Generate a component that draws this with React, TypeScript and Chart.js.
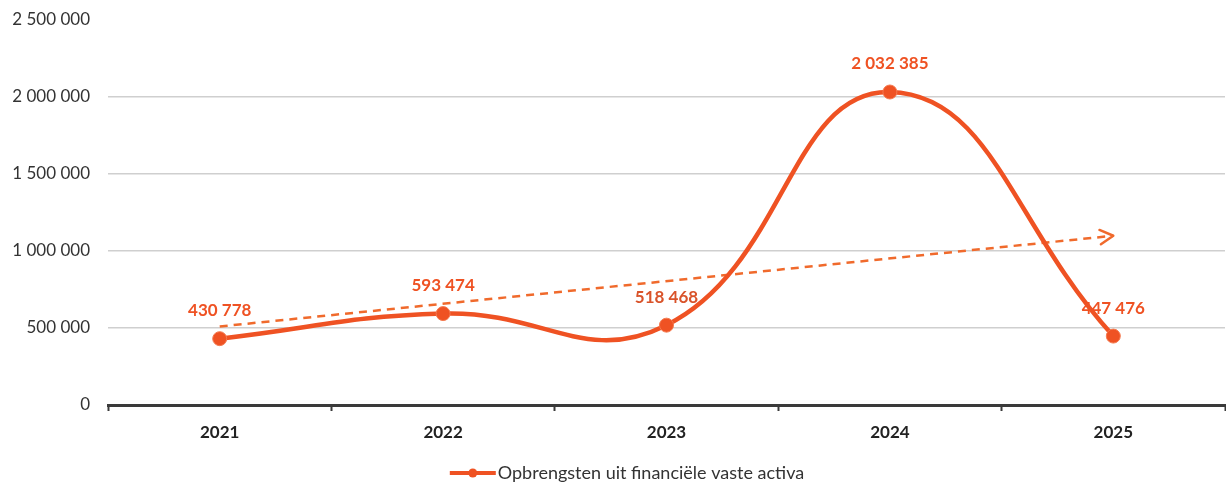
import React, { useEffect, useRef } from "react";
import { Chart, registerables } from "chart.js";

Chart.register(...registerables);

const categories = ["2021", "2022", "2023", "2024", "2025"];
const seriesLabel = "Opbrengsten uit financiële vaste activa";
const seriesValues = [430778, 593474, 518468, 2032385, 447476];
const trendValues = [510000, null, null, null, 1099000];
const yTicks = [0, 500000, 1000000, 1500000, 2000000, 2500000];

const ORANGE = "#EF5223";
const TREND = "#F06A2C";
const FONT = "Lato, 'Open Sans', sans-serif";

const fmt = (v: number) => Math.round(v).toString().replace(/\B(?=(\d{3})+(?!\d))/g, " ");

const zeroPad = (s: any) => {
  s.paddingTop = 0;
  s.paddingBottom = 0;
  s.paddingLeft = 0;
  s.paddingRight = 0;
};

const overlayPlugin = {
  id: "overlay",
  afterDatasetsDraw(chart: any) {
    const ctx = chart.ctx;
    const tMeta = chart.getDatasetMeta(1);
    const pts = tMeta.data.filter((p: any) => !p.skip && p.y != null && !isNaN(p.y));
    if (pts.length >= 2) {
      const a = pts[0];
      const b = pts[pts.length - 1];
      const ang = Math.atan2(b.y - a.y, b.x - a.x);
      const len = 15;
      ctx.save();
      ctx.strokeStyle = TREND;
      ctx.lineWidth = 2.5;
      ctx.lineCap = "round";
      ctx.lineJoin = "round";
      ctx.beginPath();
      ctx.moveTo(b.x - len * Math.cos(ang - 0.5), b.y - len * Math.sin(ang - 0.5));
      ctx.lineTo(b.x, b.y);
      ctx.lineTo(b.x - len * Math.cos(ang + 0.5), b.y - len * Math.sin(ang + 0.5));
      ctx.stroke();
      ctx.restore();
    }
    const meta = chart.getDatasetMeta(0);
    ctx.save();
    ctx.font = `bold 17px ${FONT}`;
    ctx.textAlign = "center";
    ctx.textBaseline = "middle";
    meta.data.forEach((p: any, i: number) => {
      ctx.fillStyle = i === 2 ? "#D9532A" : ORANGE;
      ctx.fillText(fmt(seriesValues[i]), p.x, p.y - 28);
    });
    ctx.restore();
  },
  afterDraw(chart: any) {
    const ctx = chart.ctx;
    ctx.save();
    ctx.font = `18px ${FONT}`;
    const tw = ctx.measureText(seriesLabel).width;
    const lineW = 46;
    const total = lineW + 2 + tw;
    const cx = chart.width / 2 + 14;
    const x0 = cx - total / 2;
    const y = 473;
    ctx.strokeStyle = ORANGE;
    ctx.lineWidth = 4;
    ctx.beginPath();
    ctx.moveTo(x0, y);
    ctx.lineTo(x0 + lineW, y);
    ctx.stroke();
    ctx.fillStyle = ORANGE;
    ctx.beginPath();
    ctx.arc(x0 + lineW / 2, y, 4.5, 0, Math.PI * 2);
    ctx.fill();
    ctx.fillStyle = "#333";
    ctx.textAlign = "left";
    ctx.textBaseline = "middle";
    ctx.fillText(seriesLabel, x0 + lineW + 2, y);
    ctx.restore();
  },
};

export default function App() {
  const ref = useRef<HTMLCanvasElement>(null);
  useEffect(() => {
    if (!ref.current) return;
    const chart = new Chart(ref.current, {
      type: "line",
      data: {
        labels: categories,
        datasets: [
          {
            label: seriesLabel,
            data: seriesValues,
            borderColor: ORANGE,
            backgroundColor: ORANGE,
            borderWidth: 4.5,
            pointRadius: 7,
            pointBackgroundColor: ORANGE,
            pointBorderColor: "#F47A50",
            pointBorderWidth: 1,
            tension: 0.45,
            fill: false,
          },
          {
            label: "trend",
            data: trendValues,
            borderColor: TREND,
            borderWidth: 2.5,
            borderDash: [8, 6],
            pointRadius: 0,
            spanGaps: true,
            tension: 0,
            fill: false,
          },
        ],
      },
      options: {
        animation: false,
        responsive: false,
        maintainAspectRatio: false,
        layout: { autoPadding: false, padding: { left: 8, right: 1, top: 20, bottom: 43 } },
        plugins: { legend: { display: false }, tooltip: { enabled: false } },
        scales: {
          x: {
            offset: true,
            grid: {
              offset: true,
              drawOnChartArea: false,
              drawTicks: true,
              tickLength: 6,
              tickWidth: 2,
              tickColor: "#3a3a3a",
            },
            border: { display: true, color: "#3a3a3a", width: 3 },
            ticks: {
              padding: 11,
              color: "#222",
              font: { family: FONT, size: 17, weight: "bold" },
            },
            afterFit: (s: any) => {
              s.height = 38;
              zeroPad(s);
            },
          },
          y: {
            min: 0,
            max: 2500000,
            afterBuildTicks: (s: any) => {
              s.ticks = yTicks.map((v) => ({ value: v }));
            },
            grid: {
              drawTicks: false,
              color: (c: any) => (c.tick && c.tick.value === 2500000 ? "rgba(0,0,0,0)" : "#cfcfcf"),
              lineWidth: 1.5,
            },
            border: { display: false },
            ticks: {
              padding: 18,
              color: "#333",
              font: { family: FONT, size: 17 },
              callback: (v: any) => fmt(Number(v)),
            },
            afterFit: (s: any) => {
              s.width = 100;
              zeroPad(s);
            },
          },
        },
      },
      plugins: [overlayPlugin],
    });
    return () => chart.destroy();
  }, []);
  return (
    <div style={{ position: "absolute", left: 0, top: 0, width: 1226, height: 486, background: "#fff" }}>
      <canvas ref={ref} width={1226} height={486} style={{ width: 1226, height: 486 }} />
    </div>
  );
}
